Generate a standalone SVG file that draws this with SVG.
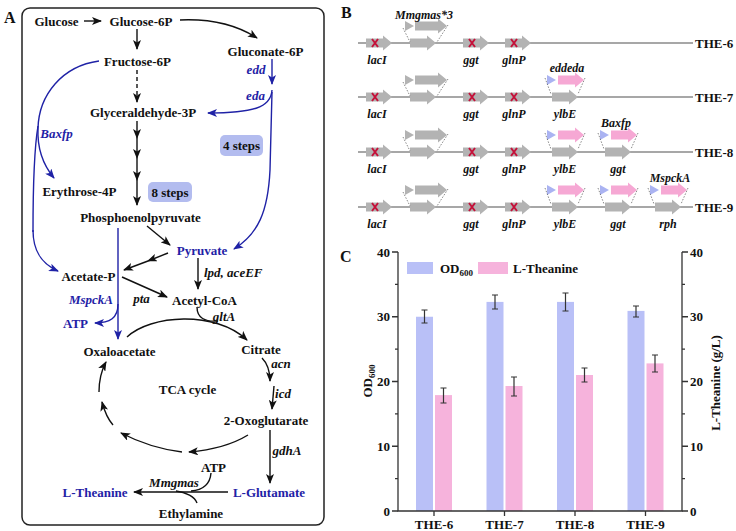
<svg xmlns="http://www.w3.org/2000/svg" xmlns:xlink="http://www.w3.org/1999/xlink" width="736" height="531" viewBox="0 0 736 531">
<style>
.t{font-family:"Liberation Serif","Times New Roman","DejaVu Serif",serif;font-weight:bold;font-size:13px;text-anchor:middle;fill:#111}
.s{font-size:12px}
.i{font-style:italic}
.bl{fill:#1f22a6}
.lab{font-family:"Liberation Serif","Times New Roman","DejaVu Serif",serif;font-weight:bold;font-size:16px;fill:#111}
.c{fill:none;stroke:#111;stroke-width:1.4}
.cb{fill:none;stroke:#1f22a6;stroke-width:1.4}
.ka{marker-end:url(#ak)}
.ba{marker-end:url(#ab)}
.ln{stroke:#8a8a8a;stroke-width:1.6}
.gr{fill:#b3b3b3}
.pk{fill:#f6a8d4}
.bt{fill:#aab3f2}
.x{stroke:#c4123a;stroke-width:2;fill:none}
.dt{stroke:#555;stroke-width:0.7;stroke-dasharray:1.5,1.5;fill:none}
.ax{stroke:#333;stroke-width:1.3;fill:none}
.eb{stroke:#333;stroke-width:1.2;fill:none}
</style>
<defs>
<marker id="ak" markerUnits="userSpaceOnUse" markerWidth="10" markerHeight="8" refX="9" refY="4" orient="auto"><path d="M0,0 L10,4 L0,8 L2.5,4 Z" fill="#111"/></marker>
<marker id="ab" markerUnits="userSpaceOnUse" markerWidth="10" markerHeight="8" refX="9" refY="4" orient="auto"><path d="M0,0 L10,4 L0,8 L2.5,4 Z" fill="#1f22a6"/></marker>
<path id="ga" d="M0,-4.5 H17 V-7.5 L26,0 L17,7.5 V4.5 H0 Z"/>
<path id="gl" d="M0,-4.5 H23 V-7.5 L32,0 L23,7.5 V4.5 H0 Z"/>
<path id="tri" d="M0,-5 L9,0 L0,5 Z"/>
<g id="ko"><use href="#ga" class="gr"/><path class="x" d="M6,-4 L12,4 M12,-4 L6,4"/></g>
<g id="mm"><use href="#ga" class="gr"/><use href="#tri" class="gr" x="-5" y="-17" fill="#c4c4c4"/><use href="#gl" class="gr" x="5" y="-17"/><path class="dt" d="M-7,-15 L0,-1 M38,-18 L27,-1"/></g>
<g id="ins"><use href="#ga" class="gr"/><use href="#tri" class="bt" x="-5" y="-17"/><use href="#ga" class="pk" x="6" y="-17"/><path class="dt" d="M-7,-19 L-1,-3 M33,-19 L26,-3"/></g>
</defs>
<rect width="736" height="531" fill="#fff"/>

<!-- Panel labels -->
<text class="lab" x="4" y="23">A</text>
<text class="lab" x="341" y="18">B</text>
<text class="lab" x="340" y="262">C</text>

<!-- Panel A frame -->
<rect x="22" y="8" width="302" height="517" rx="8" fill="none" stroke="#222" stroke-width="1.5"/>

<!-- Panel A connectors -->
<g id="connectors">
<path class="c ka" d="M84,21 L101,21"/>
<path class="c ka" d="M180,20 Q226,18 257,38"/>
<path class="c ka" d="M137,29 L137,49"/>
<path class="c ka" d="M137,70 L137,102" stroke-dasharray="4,3"/>
<path class="cb ba" d="M272,59 L272,84"/>
<path class="cb ba" d="M272,90 C271,108 252,113 208,113"/>
<path class="cb ba" d="M272,92 L270,170 C268,212 258,234 234,249"/>
<path class="c ka" d="M137,121 L137,138"/>
<path class="c ka" d="M137,138 L137,158"/>
<path class="c ka" d="M137,158 L137,180"/>
<path class="c ka" d="M137,180 L137,205"/>
<path class="cb ba" d="M99,61 C62,66 39,95 38,128 C37,150 44,166 54,178"/>
<path class="cb" d="M38,126 C34,150 33,200 33,232"/>
<path class="cb ba" d="M33,230 C33,252 42,264 58,271"/>
<path class="c ka" d="M147,226 L170,245"/>
<path class="c ka" d="M168,253 L148,261"/>
<path class="c ka" d="M148,261 L124,270"/>
<path class="c ka" d="M198,258 L198,289"/>
<path class="c ka" d="M122,277 L167,297"/>
<path class="cb ba" d="M118,228 L118,339"/>
<path class="cb ba" d="M118,304 C118,318 110,323 95,323"/>
<path class="c ka" d="M127,337 C150,315 215,310 247,340"/>
<path class="c" d="M197,307 C197,318 205,322 218,321"/>
<path class="c ka" d="M262,358 Q270,366 270,381"/>
<path class="c ka" d="M274,386 L272,409"/>
<path class="c ka" d="M248,435 Q225,449 189,452"/>
<path class="c ka" d="M182,452 Q150,448 121,433"/>
<path class="c ka" d="M113,425 Q106,417 102,402"/>
<path class="c ka" d="M99,392 Q99,375 106,362"/>
<path class="c ka" d="M270,430 L270,483"/>
<path class="c ka" d="M228,492 L134,492"/>
<path class="c" d="M211,473 C210,485 203,490 191,491"/>
<path class="c" d="M176,491 C186,492 195,497 197,503"/>
</g>

<!-- Panel A nodes -->
<g id="glucose"><text class="t" x="56.5" y="25.5">Glucose</text></g>
<g id="glucose6p"><text class="t" x="141" y="25.5">Glucose-6P</text></g>
<g id="gluconate6p"><text class="t" x="265.5" y="55.5">Gluconate-6P</text></g>
<g id="fructose6p"><text class="t" x="137.5" y="65.5">Fructose-6P</text></g>
<g id="gap"><text class="t" x="143" y="116.5">Glyceraldehyde-3P</text></g>
<g id="erythrose4p"><text class="t" x="79.5" y="195.5">Erythrose-4P</text></g>
<g id="pep"><text class="t" x="140.5" y="221.5">Phosphoenolpyruvate</text></g>
<g id="pyruvate"><text class="t bl" x="202" y="254.5">Pyruvate</text></g>
<g id="acetatep"><text class="t" x="88.5" y="280.5">Acetate-P</text></g>
<g id="acetylcoa"><text class="t" x="204.5" y="304.5">Acetyl-CoA</text></g>
<g id="atp1"><text class="t bl" x="75.5" y="327.5">ATP</text></g>
<g id="oxaloacetate"><text class="t" x="119.5" y="355.5">Oxaloacetate</text></g>
<g id="citrate"><text class="t" x="261" y="353.5">Citrate</text></g>
<g id="tca"><text class="t" x="187.5" y="393.5">TCA cycle</text></g>
<g id="oxoglutarate"><text class="t" x="266" y="424.5">2-Oxoglutarate</text></g>
<g id="glutamate"><text class="t bl" x="269" y="496.5">L-Glutamate</text></g>
<g id="theanine"><text class="t bl" x="95" y="496.5">L-Theanine</text></g>
<g id="atp2"><text class="t" x="213.5" y="471.5">ATP</text></g>
<g id="ethylamine"><text class="t" x="191" y="517.5">Ethylamine</text></g>
<g id="steps4"><rect x="220" y="135" width="43" height="21" rx="5" fill="#b3bcef"/><text class="t" x="241.5" y="150">4 steps</text></g>
<g id="steps8"><rect x="148" y="182" width="44" height="20" rx="5" fill="#b3bcef"/><text class="t" x="170" y="196.5">8 steps</text></g>

<!-- Panel A enzyme labels -->
<g id="enzymes">
<text class="t i bl" x="256" y="73.5">edd</text>
<text class="t i bl" x="255.5" y="99.5">eda</text>
<text class="t i bl" x="56.5" y="137.5">Baxfp</text>
<text class="t i bl" x="91" y="303.5">MspckA</text>
<text class="t i" x="204" y="276.5" style="text-anchor:start">lpd, aceEF</text>
<text class="t i" x="141.5" y="302.5">pta</text>
<text class="t i" x="224" y="320.5">gltA</text>
<text class="t i" x="281" y="367.5">acn</text>
<text class="t i" x="283" y="397.5">icd</text>
<text class="t i" x="287" y="454.5">gdhA</text>
<text class="t i" x="174" y="486.5">Mmgmas</text>
</g>

<!-- Panel B -->
<g id="row-the6">
<path class="ln" d="M358,43 H693"/>
<use href="#ko" x="366" y="43"/><use href="#mm" x="410" y="43"/><use href="#ko" x="463" y="43"/><use href="#ko" x="505" y="43"/>
<text class="t s i" x="424" y="19">Mmgmas*3</text>
<text class="t s i" x="377" y="64">lacI</text><text class="t s i" x="471" y="64">ggt</text><text class="t s i" x="514" y="64">glnP</text>
<text class="t" x="695" y="47.5" style="text-anchor:start">THE-6</text>
</g>
<g id="row-the7">
<path class="ln" d="M358,97 H693"/>
<use href="#ko" x="366" y="97"/><use href="#mm" x="410" y="97"/><use href="#ko" x="463" y="97"/><use href="#ko" x="505" y="97"/><use href="#ins" x="552" y="97"/>
<text class="t s i" x="567" y="72">eddeda</text>
<text class="t s i" x="377" y="118">lacI</text><text class="t s i" x="471" y="118">ggt</text><text class="t s i" x="514" y="118">glnP</text><text class="t s i" x="565" y="118">ylbE</text>
<text class="t" x="695" y="101.5" style="text-anchor:start">THE-7</text>
</g>
<g id="row-the8">
<path class="ln" d="M358,152 H693"/>
<use href="#ko" x="366" y="152"/><use href="#mm" x="410" y="152"/><use href="#ko" x="463" y="152"/><use href="#ko" x="505" y="152"/><use href="#ins" x="552" y="152"/><use href="#ins" x="605" y="152"/>
<text class="t s i" x="616" y="127">Baxfp</text>
<text class="t s i" x="377" y="173">lacI</text><text class="t s i" x="471" y="173">ggt</text><text class="t s i" x="514" y="173">glnP</text><text class="t s i" x="565" y="173">ylbE</text><text class="t s i" x="618" y="173">ggt</text>
<text class="t" x="695" y="156.5" style="text-anchor:start">THE-8</text>
</g>
<g id="row-the9">
<path class="ln" d="M358,207 H693"/>
<use href="#ko" x="366" y="207"/><use href="#mm" x="410" y="207"/><use href="#ko" x="463" y="207"/><use href="#ko" x="505" y="207"/><use href="#ins" x="552" y="207"/><use href="#ins" x="605" y="207"/><use href="#ins" x="655" y="207"/>
<text class="t s i" x="670" y="182">MspckA</text>
<text class="t s i" x="377" y="228">lacI</text><text class="t s i" x="471" y="228">ggt</text><text class="t s i" x="514" y="228">glnP</text><text class="t s i" x="565" y="228">ylbE</text><text class="t s i" x="618" y="228">ggt</text><text class="t s i" x="668" y="228">rph</text>
<text class="t" x="695" y="211.5" style="text-anchor:start">THE-9</text>
</g>

<!-- Panel C -->
<g id="chart">
<g id="bars">
<rect x="416" y="316.75" width="17" height="194.25" fill="#b9c0f7"/>
<rect x="435" y="395.1" width="17" height="115.9" fill="#f6b3dc"/>
<rect x="486.5" y="301.9" width="17" height="209.1" fill="#b9c0f7"/>
<rect x="505.5" y="386" width="17" height="125" fill="#f6b3dc"/>
<rect x="557" y="301.9" width="17" height="209.1" fill="#b9c0f7"/>
<rect x="576" y="375" width="17" height="136" fill="#f6b3dc"/>
<rect x="627.5" y="310.9" width="17" height="200.1" fill="#b9c0f7"/>
<rect x="646.5" y="363.4" width="17" height="147.6" fill="#f6b3dc"/>
</g>
<g id="errorbars" class="eb">
<path d="M424.5,310 V323 M421.5,310 H427.5 M421.5,323 H427.5"/>
<path d="M443.5,388 V403 M440.5,388 H446.5 M440.5,403 H446.5"/>
<path d="M495,295 V309 M492,295 H498 M492,309 H498"/>
<path d="M514,377 V396 M511,377 H517 M511,396 H517"/>
<path d="M565.5,293 V311 M562.5,293 H568.5 M562.5,311 H568.5"/>
<path d="M584.5,368 V382 M581.5,368 H587.5 M581.5,382 H587.5"/>
<path d="M636,306 V317 M633,306 H639 M633,317 H639"/>
<path d="M655,355 V372 M652,355 H658 M652,372 H658"/>
</g>
<g id="axes" class="ax">
<path d="M398,252 V511 H682 V252"/>
<path d="M392,252 H398 M392,316.75 H398 M392,381.5 H398 M392,446.25 H398 M392,511 H398"/>
<path d="M395,284.4 H398 M395,349.1 H398 M395,413.9 H398 M395,478.6 H398"/>
<path d="M682,252 H688 M682,316.75 H688 M682,381.5 H688 M682,446.25 H688 M682,511 H688"/>
<path d="M682,284.4 H685 M682,349.1 H685 M682,413.9 H685 M682,478.6 H685"/>
<path d="M434,511 V516 M504.5,511 V516 M575,511 V516 M645.5,511 V516"/>
</g>
<g id="ticklabels">
<text class="t" x="390" y="256.5" style="text-anchor:end">40</text>
<text class="t" x="390" y="321" style="text-anchor:end">30</text>
<text class="t" x="390" y="386" style="text-anchor:end">20</text>
<text class="t" x="390" y="450.5" style="text-anchor:end">10</text>
<text class="t" x="390" y="515.5" style="text-anchor:end">0</text>
<text class="t" x="690" y="256.5" style="text-anchor:start">40</text>
<text class="t" x="690" y="321" style="text-anchor:start">30</text>
<text class="t" x="690" y="386" style="text-anchor:start">20</text>
<text class="t" x="690" y="450.5" style="text-anchor:start">10</text>
<text class="t" x="690" y="515.5" style="text-anchor:start">0</text>
<text class="t" x="434" y="529">THE-6</text>
<text class="t" x="504.5" y="529">THE-7</text>
<text class="t" x="575" y="529">THE-8</text>
<text class="t" x="645.5" y="529">THE-9</text>
</g>
<g id="axistitles">
<text class="t" transform="translate(372,381) rotate(-90)">OD<tspan font-size="9" dy="3">600</tspan></text>
<text class="t" transform="translate(720,383) rotate(-90)">L-Theanine (g/L)</text>
</g>
<g id="legend">
<rect x="407" y="262" width="26" height="12" fill="#b9c0f7"/>
<text class="t" x="440" y="272.5" style="text-anchor:start">OD<tspan font-size="9" dy="3">600</tspan></text>
<rect x="478" y="262" width="30" height="12" fill="#f6b3dc"/>
<text class="t" x="513" y="272.5" style="text-anchor:start">L-Theanine</text>
</g>
</g>
</svg>
